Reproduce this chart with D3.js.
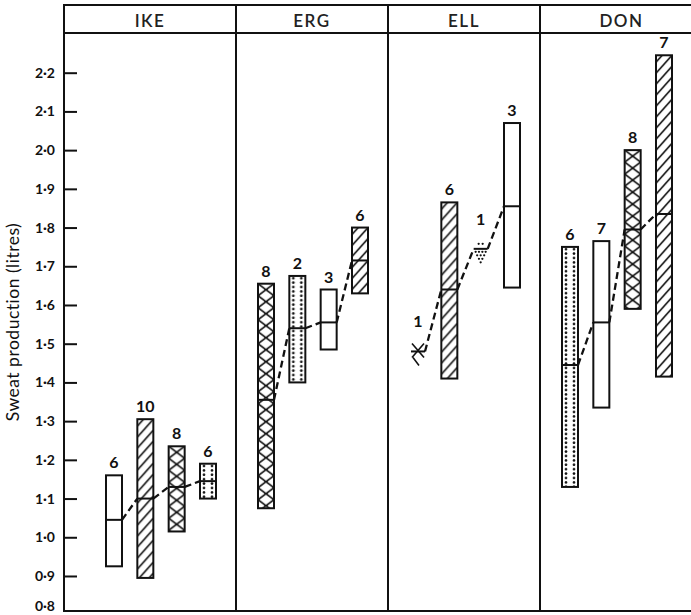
<!DOCTYPE html>
<html>
<head>
<meta charset="utf-8">
<script src="https://cdn.jsdelivr.net/npm/d3@7"></script>
<style>
  body { margin: 0; background: #fff; }
  svg { display: block; font-family: Lato, "Open Sans", sans-serif; }
  .frame line { stroke: #111; stroke-width: 2; }
  .bar-outline { fill: none; stroke: #111; stroke-width: 2; }
  .mean-line, .glyph line { stroke: #111; stroke-width: 2; }
  .glyph circle { fill: #111; }
  .connector { fill: none; stroke: #111; stroke-width: 2.3; stroke-dasharray: 7 4; }
  .n-label { font-size: 16px; font-weight: bold; text-anchor: middle; fill: #111; }
  .panel-title { font-size: 17px; font-weight: 600; text-anchor: middle; letter-spacing: 1.5px; fill: #222; }
  .y.axis text { font-family: Lato, sans-serif; font-size: 14px; font-weight: bold; fill: #111; }
  .y.axis line { stroke: #111; stroke-width: 2; }
  .y.title { font-size: 17.5px; letter-spacing: 0.5px; text-anchor: middle; fill: #111; }
</style>
</head>
<body>
<svg id="chart" width="691" height="615"></svg>
<script>
// subjects, and the 4 conditions drawn in each panel (left to right)
const panels = ["IKE", "ERG", "ELL", "DON"];
const conditions = [
    ["open", "hatched", "crossed", "dotted"],
    ["crossed", "dotted", "open", "hatched"],
    ["crossed", "hatched", "dotted", "open"],
    ["dotted", "open", "crossed", "hatched"]
];
// number of observations (printed above each bar)
const counts = [[6, 10, 8, 6], [8, 2, 3, 6], [1, 6, 1, 3], [6, 7, 8, 7]];
// sweat production, litres
const lows  = [[0.925, 0.895, 1.015, 1.10], [1.075, 1.40, 1.485, 1.63], [1.48, 1.41, 1.745, 1.645], [1.13, 1.335, 1.59, 1.415]];
const means = [[1.045, 1.10, 1.13, 1.145], [1.355, 1.54, 1.555, 1.715], [1.48, 1.64, 1.745, 1.855], [1.445, 1.555, 1.795, 1.835]];
const highs = [[1.16, 1.305, 1.235, 1.19], [1.655, 1.675, 1.64, 1.80], [1.48, 1.865, 1.745, 2.07], [1.75, 1.765, 2.0, 2.245]];
const yTicks = [0.8, 0.9, 1.0, 1.1, 1.2, 1.3, 1.4, 1.5, 1.6, 1.7, 1.8, 1.9, 2.0, 2.1, 2.2];

const frame = {left: 64, top: 5, header: 33, bottom: 611, right: 692};
const barWidth = 16;

const svg = d3.select("#chart");
svg.append("rect").attr("width", 691).attr("height", 615).attr("fill", "#fff");
const defs = svg.append("defs");

let y = d3.scaleLinear().domain([0.8, 2.2]).range([614.7, 72.7]);
let panelLeft = d3.scaleOrdinal().domain(panels).range([64, 236, 388, 540]);
let panelRight = d3.scaleOrdinal().domain(panels).range([236, 388, 540, 692]);
let slot = d3.scalePoint().domain([0, 1, 2, 3]).range([-122, -28]);

let bars = panels.flatMap((p, pi) => conditions[pi].map((c, bi) => ({
    panel: p, slot: bi, cond: c, n: counts[pi][bi],
    low: lows[pi][bi], mean: means[pi][bi], high: highs[pi][bi],
    cx: panelRight(p) + slot(bi)
})));
bars.forEach((d, i) => { d.id = "pat" + i; d.half = d.n > 1 ? barWidth / 2 : 7; });

// frame
let fr = svg.append("g").attr("class", "frame");
fr.append("line").attr("x1", frame.left).attr("x2", 691).attr("y1", frame.top).attr("y2", frame.top);
fr.append("line").attr("x1", frame.left).attr("x2", 691).attr("y1", frame.header).attr("y2", frame.header);
fr.append("line").attr("x1", frame.left).attr("x2", 691).attr("y1", frame.bottom).attr("y2", frame.bottom);
fr.selectAll(".divider").data(panels).enter().append("line")
    .attr("class", "divider")
    .attr("x1", d => panelLeft(d)).attr("x2", d => panelLeft(d))
    .attr("y1", frame.top - 1).attr("y2", frame.bottom + 1);

svg.selectAll(".panel-title").data(panels).enter().append("text")
    .attr("class", "panel-title")
    .attr("x", d => (panelLeft(d) + Math.min(panelRight(d), 691)) / 2 + (d === "DON" ? 6 : 0))
    .attr("y", 26.5)
    .text(d => d);

// y axis, ticks pointing into the plot
let fmt = d3.format(".1f");
let yAxis = svg.append("g").attr("class", "y axis")
    .attr("transform", "translate(" + frame.left + ",0)")
    .call(d3.axisLeft(y).tickValues(yTicks).tickSize(-13).tickPadding(9)
        .tickFormat(d => fmt(d).replace(".", "\u00b7")));
yAxis.select(".domain").remove();
yAxis.selectAll(".tick").filter(d => d === 0.8).each(function() {
    d3.select(this).select("line").remove();
    d3.select(this).select("text").attr("y", -9);
});

svg.append("text").attr("class", "y title")
    .attr("transform", "translate(19," + 322 + ") rotate(-90)")
    .text("Sweat production (litres)");

// fill patterns, one per bar so the tiles line up with the bar edges
let filled = bars.filter(d => d.n > 1 && d.cond !== "open");
let pats = defs.selectAll("pattern").data(filled).enter().append("pattern")
    .attr("id", d => d.id)
    .attr("patternUnits", "userSpaceOnUse")
    .attr("x", d => d.cx - barWidth / 2)
    .attr("y", d => y(d.high))
    .attr("width", d => d.cond === "dotted" ? 8 : 16)
    .attr("height", d => d.cond === "dotted" ? 4.4 : d.cond === "crossed" ? 12 : 11);

pats.filter(d => d.cond === "hatched").selectAll("line")
    .data([[0, 18, 16, 0], [0, 7, 16, -11], [0, 29, 16, 11]]).enter().append("line")
    .attr("x1", l => l[0]).attr("y1", l => l[1]).attr("x2", l => l[2]).attr("y2", l => l[3])
    .attr("stroke", "#111").attr("stroke-width", 1.6);
pats.filter(d => d.cond === "crossed").selectAll("line")
    .data([[0, 0, 16, 12], [16, 0, 0, 12]]).enter().append("line")
    .attr("x1", l => l[0]).attr("y1", l => l[1]).attr("x2", l => l[2]).attr("y2", l => l[3])
    .attr("stroke", "#111").attr("stroke-width", 1.7);
pats.filter(d => d.cond === "dotted").append("circle")
    .attr("cx", 4).attr("cy", 2.2).attr("r", 1.35).attr("fill", "#111");

// bars (n > 1)
let barG = svg.append("g").attr("class", "bars");
let multi = bars.filter(d => d.n > 1);
barG.selectAll(".bar-fill").data(multi).enter().append("rect")
    .attr("class", "bar-fill")
    .attr("x", d => d.cx - barWidth / 2).attr("y", d => y(d.high))
    .attr("width", barWidth).attr("height", d => y(d.low) - y(d.high))
    .attr("fill", d => d.cond === "open" ? "#fff" : "url(#" + d.id + ")");
barG.selectAll(".bar-outline").data(multi).enter().append("rect")
    .attr("class", "bar-outline")
    .attr("x", d => d.cx - barWidth / 2).attr("y", d => y(d.high))
    .attr("width", barWidth).attr("height", d => y(d.low) - y(d.high));
barG.selectAll(".mean-line").data(multi).enter().append("line")
    .attr("class", "mean-line")
    .attr("x1", d => d.cx - barWidth / 2).attr("x2", d => d.cx + barWidth / 2)
    .attr("y1", d => y(d.mean)).attr("y2", d => y(d.mean));

// single observations drawn as small glyphs
let single = bars.filter(d => d.n === 1);
let glyph = svg.selectAll(".glyph").data(single).enter().append("g")
    .attr("class", "glyph")
    .attr("transform", d => "translate(" + d.cx + "," + y(d.mean) + ")");
glyph.append("line").attr("x1", -7).attr("x2", 7).attr("y1", 0).attr("y2", 0);
glyph.filter(d => d.cond === "crossed").selectAll(".x")
    .data([[-6, -8, 6, 6], [6, -8, -6, 6], [-5, 6, 1, 14]]).enter().append("line")
    .attr("x1", l => l[0]).attr("y1", l => l[1]).attr("x2", l => l[2]).attr("y2", l => l[3])
    .style("stroke-width", 1.6);
glyph.filter(d => d.cond === "dotted").selectAll("circle")
    .data([[-2, -5], [2, -5], [-5, 3], [-1.7, 3], [1.7, 3], [5, 3], [-3.5, 6.5], [0, 6.5], [3.5, 6.5], [-1.7, 10], [1.7, 10], [0, 13.5]])
    .enter().append("circle")
    .attr("cx", p => p[0]).attr("cy", p => p[1]).attr("r", 1.15);

// dashed line joining the means
let connect = d3.line();
panels.forEach(p => {
    let row = bars.filter(d => d.panel === p);
    svg.selectAll(null).data(d3.pairs(row)).enter().append("path")
        .attr("class", "connector")
        .attr("d", ([a, b]) => connect([[a.cx + a.half, y(a.mean)], [b.cx - b.half, y(b.mean)]]));
});

// number of observations
svg.selectAll(".n-label").data(bars).enter().append("text")
    .attr("class", "n-label")
    .attr("x", d => d.cx)
    .attr("y", d => d.n > 1 ? y(d.high) - 7 : y(d.mean) - 24)
    .text(d => d.n);
</script>
</body>
</html>
